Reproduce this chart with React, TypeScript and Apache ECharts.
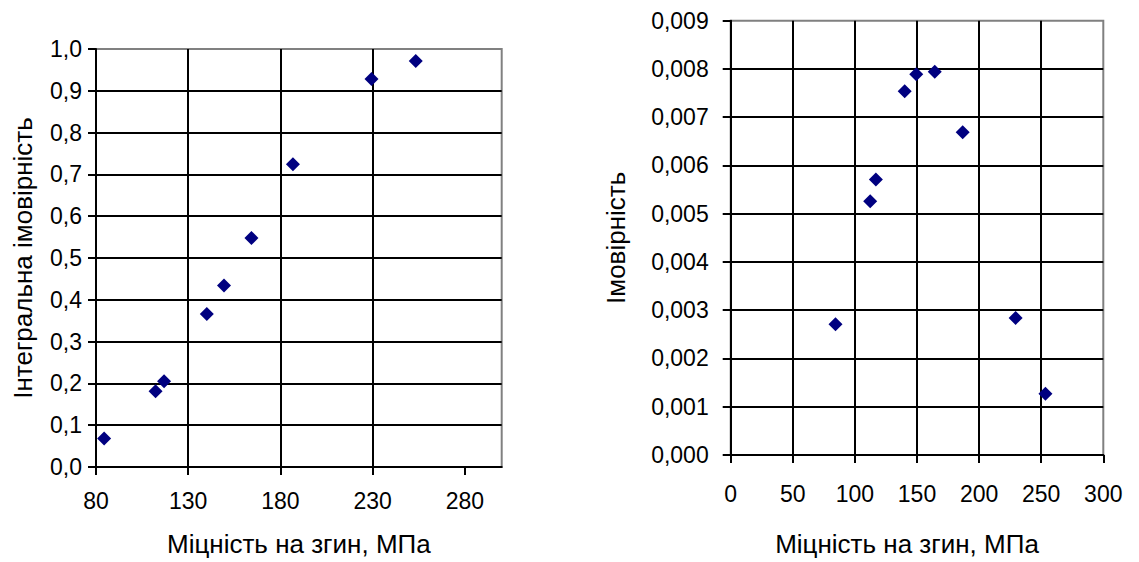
import React, { useEffect, useRef } from "react";
import * as echarts from "echarts";

// Bending strength, MPa (shared x values)
const strength = [84.4, 112.3, 116.9, 140.1, 149.4, 164.3, 186.8, 229.4, 253.4];
// Cumulative (integral) probability
const cumulativeProb = [0.068, 0.181, 0.205, 0.366, 0.434, 0.548, 0.724, 0.928, 0.971];
// Probability density
const probability = [0.00271, 0.00526, 0.00571, 0.00754, 0.00789, 0.00794, 0.00669, 0.00284, 0.00127];

const leftXTicks = [80, 130, 180, 230, 280];
const xTitle = "Міцність на згин, МПа";
const leftYTitle = "Інтегральна імовірність";
const rightYTitle = "Імовірність";

const FONT = "Liberation Sans, Arial, sans-serif";
const TICK_SIZE = 23;
const TITLE_SIZE = 26;

export default function App() {
  const ref = useRef<HTMLDivElement>(null);
  useEffect(() => {
    if (!ref.current) return;
    const chart = echarts.init(ref.current, undefined, { renderer: "svg" });
    const axisLine = { show: true, lineStyle: { color: "#000", width: 2 } };
    const axisTick = { show: true, inside: false, length: 8, lineStyle: { color: "#000", width: 2 } };
    const splitLine = { show: true, showMaxLine: false, lineStyle: { color: "#000", width: 2 } };
    const labelStyle = { color: "#000", fontSize: TICK_SIZE, fontFamily: FONT };
    const nameStyle = { color: "#000", fontSize: TITLE_SIZE, fontFamily: FONT };

    const series1 = strength.map((x, i) => [x, cumulativeProb[i]]);
    const series2 = strength.map((x, i) => [x, probability[i]]);

    chart.setOption({
      animation: false,
      backgroundColor: "#fff",
      grid: [
        { left: 96, top: 49, width: 405.7, height: 418.3, show: true, borderColor: "#808080", borderWidth: 2, backgroundColor: "transparent" },
        { left: 730.7, top: 20.7, width: 372.6, height: 434.3, show: true, borderColor: "#808080", borderWidth: 2, backgroundColor: "transparent" },
      ],
      xAxis: [
        {
          type: "value",
          gridIndex: 0,
          min: 80,
          max: 300,
          interval: 50,
          axisLine,
          axisTick: { ...axisTick, customValues: leftXTicks },
          splitLine,
          axisLabel: { ...labelStyle, margin: 22, customValues: leftXTicks },
          name: xTitle,
          nameLocation: "middle",
          nameGap: 64,
          nameTextStyle: nameStyle,
        },
        {
          type: "value",
          gridIndex: 1,
          min: 0,
          max: 300,
          interval: 50,
          axisLine,
          axisTick,
          splitLine,
          axisLabel: { ...labelStyle, margin: 27 },
          name: xTitle,
          nameLocation: "middle",
          nameGap: 76,
          nameTextStyle: { ...nameStyle, padding: [0, 20, 0, 0] },
        },
      ],
      yAxis: [
        {
          type: "value",
          gridIndex: 0,
          min: 0,
          max: 1,
          interval: 0.1,
          axisLine,
          axisTick,
          splitLine,
          axisLabel: { ...labelStyle, margin: 14, formatter: (v: number) => v.toFixed(1).replace(".", ",") },
          name: leftYTitle,
          nameLocation: "middle",
          nameGap: 60,
          nameTextStyle: nameStyle,
        },
        {
          type: "value",
          gridIndex: 1,
          min: 0,
          max: 0.009,
          interval: 0.001,
          axisLine,
          axisTick,
          splitLine,
          axisLabel: { ...labelStyle, margin: 22, formatter: (v: number) => v.toFixed(3).replace(".", ",") },
          name: rightYTitle,
          nameLocation: "middle",
          nameGap: 102,
          nameTextStyle: nameStyle,
        },
      ],
      series: [
        {
          type: "scatter",
          xAxisIndex: 0,
          yAxisIndex: 0,
          data: series1,
          symbol: "diamond",
          symbolSize: 14,
          itemStyle: { color: "#000080", opacity: 1 },
        },
        {
          type: "scatter",
          xAxisIndex: 1,
          yAxisIndex: 1,
          data: series2,
          symbol: "diamond",
          symbolSize: 14,
          itemStyle: { color: "#000080", opacity: 1 },
        },
      ],
    });
    return () => chart.dispose();
  }, []);
  return (
    <div
      ref={ref}
      style={{ position: "fixed", left: 0, top: 0, width: 1139, height: 562, background: "#fff" }}
    />
  );
}
